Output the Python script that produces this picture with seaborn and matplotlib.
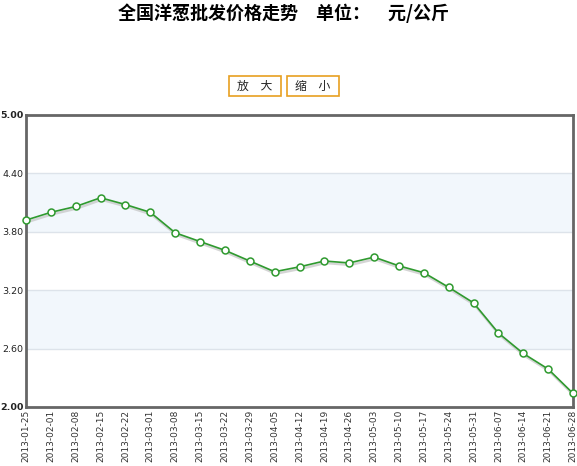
import numpy as np
import pandas as pd
import matplotlib
matplotlib.use("Agg")
import matplotlib.pyplot as plt
import matplotlib.transforms as mtransforms
from matplotlib.patches import Rectangle
import seaborn as sns

# weekly wholesale onion price, yuan/kg
dates = ["2013-01-25", "2013-02-01", "2013-02-08", "2013-02-15", "2013-02-22",
         "2013-03-01", "2013-03-08", "2013-03-15", "2013-03-22", "2013-03-29",
         "2013-04-05", "2013-04-12", "2013-04-19", "2013-04-26", "2013-05-03",
         "2013-05-10", "2013-05-17", "2013-05-24", "2013-05-31", "2013-06-07",
         "2013-06-14", "2013-06-21", "2013-06-28"]
prices = [3.92, 4.00, 4.06, 4.15, 4.08, 4.00, 3.79, 3.70, 3.61, 3.50,
          3.39, 3.44, 3.50, 3.48, 3.54, 3.45, 3.38, 3.23, 3.07, 2.76,
          2.55, 2.39, 2.14]
y_ticks = [2.00, 2.60, 3.20, 3.80, 4.40, 5.00]
bands = [(2.60, 3.20), (3.80, 4.40)]

title = "全国洋葱批发价格走势　单位：　元/公斤"
buttons = ["放　大", "缩　小"]

sns.set_style("white")
plt.rcParams["font.family"] = ["Noto Sans CJK SC", "DejaVu Sans"]

df = pd.DataFrame({"idx": np.arange(len(dates)), "date": dates, "price": prices})

W, H = 577, 466
fig = plt.figure(figsize=(W / 100, H / 100), dpi=100)
ax = fig.add_axes([26 / W, 1 - 407 / H, 547 / W, 292 / H])

for lo, hi in bands:
    ax.axhspan(lo, hi, color="#f2f7fc", zorder=0, lw=0)
for t in y_ticks[1:-1]:
    ax.axhline(t, color="#dde3ea", lw=1, zorder=1)

# soft grey shadow under the line
shadow = mtransforms.offset_copy(ax.transData, fig=fig, x=1, y=-2, units="dots")
ax.plot(df["idx"], df["price"], color="#c4c4c4", lw=1.8, alpha=0.7,
        transform=shadow, zorder=2)

sns.lineplot(data=df, x="idx", y="price", ax=ax, color="#2f9a2f", lw=1.2,
             marker="o", markersize=5, markerfacecolor="white",
             markeredgecolor="#2f9a2f", markeredgewidth=1.1, zorder=3, clip_on=False)

ax.set_xlim(0, len(dates) - 1)
ax.set_ylim(y_ticks[0], y_ticks[-1])
ax.set_xticks(df["idx"])
ax.set_xticklabels(dates, rotation=90, fontsize=6.5, color="#333333",
                   family="DejaVu Sans")
ax.set_yticks(y_ticks)
ax.set_yticklabels([f"{t:.2f}" for t in y_ticks], fontsize=6.8, color="#222222",
                   family="DejaVu Sans")
for lab in (ax.get_yticklabels()[0], ax.get_yticklabels()[-1]):
    lab.set_fontweight("bold")
ax.tick_params(axis="both", length=0, pad=2)
ax.set_xlabel("")
ax.set_ylabel("")
for sp in ax.spines.values():
    sp.set_color("#666666")
    sp.set_linewidth(2)

fig.text(0.492, 0.972, title, ha="center", va="center", fontsize=13,
         fontweight="bold", color="black")

# zoom buttons
for x0, label in zip([229, 287], buttons):
    fig.patches.append(Rectangle((x0 / W, 1 - 96 / H), 52 / W, 20 / H,
                                 transform=fig.transFigure, fc="white",
                                 ec="#e8a020", lw=1.2))
    fig.text((x0 + 26) / W, 1 - 86 / H, label, ha="center", va="center",
             fontsize=8.5, color="#222222")

fig.savefig("out.png", dpi=100)
